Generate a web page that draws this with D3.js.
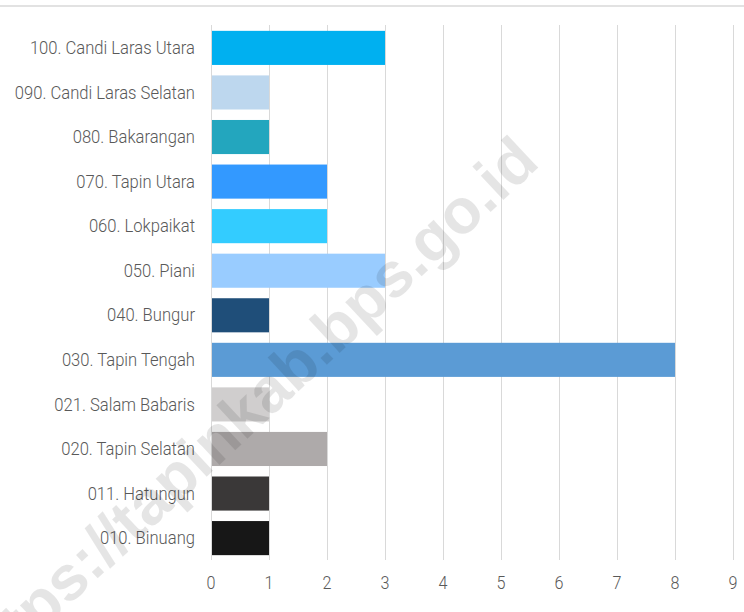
<!DOCTYPE html>
<html>
<head>
<meta charset="utf-8">
<script src="https://cdn.jsdelivr.net/npm/d3@7"></script>
<style>
  body { margin: 0; background: #fff; }
  svg { display: block; }
  .lbl { font-family: Roboto, "Liberation Sans", sans-serif; font-weight: 300; fill: #595959; }
</style>
</head>
<body>
<svg id="chart" width="744" height="612"></svg>
<script>
// data, top to bottom
var categories = ["100. Candi Laras Utara", "090. Candi Laras Selatan", "080. Bakarangan",
  "070. Tapin Utara", "060. Lokpaikat", "050. Piani", "040. Bungur", "030. Tapin Tengah",
  "021. Salam Babaris", "020. Tapin Selatan", "011. Hatungun", "010. Binuang"];
var values = [3, 1, 1, 2, 2, 3, 1, 8, 1, 2, 1, 1];
var barColors = ["#00B0F0", "#BDD7EE", "#23A6BE", "#3399FF", "#33CCFF", "#99CCFF",
  "#1F4E79", "#5B9BD5", "#D0CECE", "#AEAAAA", "#3A3838", "#171717"];
var xTicks = [0, 1, 2, 3, 4, 5, 6, 7, 8, 9];

var svg = d3.select('#chart');
var narrow = 0.95; // squeeze text a bit, the original font is condensed

// top border line
svg.append('line')
  .attr('x1', 0).attr('x2', 744)
  .attr('y1', 6).attr('y2', 6)
  .attr('stroke', '#d9d9d9').attr('stroke-width', 1.5);

var x = d3.scaleLinear().domain([0, 9]).range([211, 733]);
var y = d3.scaleBand().domain(categories).range([25.5, 560.5]).paddingInner(0.235).paddingOuter(0.12);

// gridlines
svg.append('g')
  .selectAll('line')
  .data(xTicks)
  .enter().append('line')
  .attr('x1', d => x(d) + 0.5).attr('x2', d => x(d) + 0.5)
  .attr('y1', 25).attr('y2', 560)
  .attr('stroke', '#d9d9d9').attr('stroke-width', 1);

// bars
svg.append('g')
  .selectAll('rect')
  .data(values)
  .enter().append('rect')
  .attr('x', x(0) + 1)
  .attr('y', (d, i) => y(categories[i]))
  .attr('width', d => x(d) - x(0) - 1)
  .attr('height', y.bandwidth())
  .attr('fill', (d, i) => barColors[i]);

// category labels
svg.append('g')
  .selectAll('text')
  .data(categories)
  .enter().append('text')
  .attr('class', 'lbl')
  .attr('transform', d => 'translate(195,' + (y(d) + y.bandwidth() / 2) + ') scale(' + narrow + ',1)')
  .attr('dy', '0.35em')
  .attr('text-anchor', 'end')
  .style('font-size', '17.5px')
  .text(d => d);

// x axis labels
svg.append('g')
  .selectAll('text')
  .data(xTicks)
  .enter().append('text')
  .attr('class', 'lbl')
  .attr('transform', d => 'translate(' + x(d) + ',582) scale(0.85,1)')
  .attr('dy', '0.35em')
  .attr('text-anchor', 'middle')
  .style('font-size', '19px')
  .text(d => d);

// watermark
svg.append('text')
  .attr('transform', 'translate(246,410) rotate(-43)')
  .attr('text-anchor', 'middle')
  .attr('dy', '0.35em')
  .style('font-family', '"Liberation Sans", Arial, sans-serif')
  .style('font-weight', 'bold')
  .style('font-size', '63px')
  .attr('fill', '#000')
  .attr('fill-opacity', 0.1)
  .text('https://tapinkab.bps.go.id');
</script>
</body>
</html>
